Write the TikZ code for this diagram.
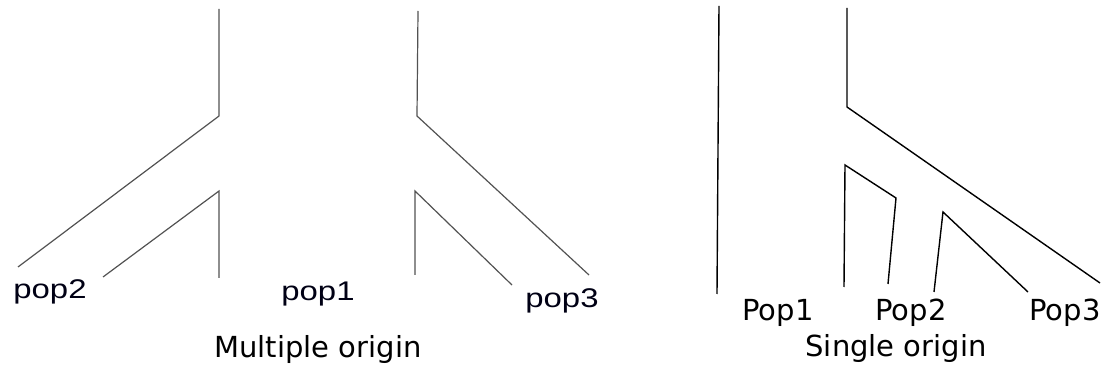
\documentclass[tikz,border=0pt]{standalone}
\usepackage{fontspec}
\setmainfont{DejaVu Sans}
\newfontfamily\popfont[FakeStretch=1.22]{Liberation Sans}
\begin{document}
\begin{tikzpicture}[x=1pt,y=-1pt,
    oldline/.style={draw=black!68,line width=1.2pt},
    newline/.style={draw=black,line width=1.4pt},
    poplab/.style={anchor=base,font=\popfont\fontsize{27}{27}\selectfont,text=black!92!blue},
    treelab/.style={anchor=base,font=\fontsize{29}{29}\selectfont}]
  \useasboundingbox (0,0) rectangle (1112,379);
  % multiple origin
  \coordinate (ltop) at (219,9);
  \coordinate (lbend) at (219,116);
  \coordinate (lend) at (18,267);
  \coordinate (lapex) at (219,191);
  \coordinate (lfoot) at (219,278);
  \coordinate (lside) at (103,277);
  \coordinate (rtop) at (418,11);
  \coordinate (rbend) at (417,116);
  \coordinate (rend) at (589,275);
  \coordinate (rapex) at (415,191);
  \coordinate (rfoot) at (415,275);
  \coordinate (rside) at (512,285);
  \draw[oldline] (ltop) -- (lbend) -- (lend);
  \draw[oldline] (lside) -- (lapex) -- (lfoot);
  \draw[oldline] (rtop) -- (rbend) -- (rend);
  \draw[oldline] (rfoot) -- (rapex) -- (rside);
  \node[poplab] (pop2) at (50,299) {pop2};
  \node[poplab] (pop1) at (318,301) {pop1};
  \node[poplab] (pop3) at (562,308) {pop3};
  \node[treelab] (multi) at (318,358) {Multiple origin};
  % single origin
  \coordinate (otop) at (719,6);
  \coordinate (obot) at (717,294);
  \coordinate (stop) at (847,8);
  \coordinate (sbend) at (847,107);
  \coordinate (send) at (1100,283);
  \coordinate (aapex) at (845,165);
  \coordinate (afoot) at (844,287);
  \coordinate (acorner) at (896,198);
  \coordinate (aend) at (888,284);
  \coordinate (bapex) at (943,212);
  \coordinate (bfoot) at (934,292);
  \coordinate (bend) at (1028,292);
  \draw[newline] (otop) -- (obot);
  \draw[newline] (stop) -- (sbend) -- (send);
  \draw[newline] (afoot) -- (aapex) -- (acorner) -- (aend);
  \draw[newline] (bfoot) -- (bapex) -- (bend);
  \node[treelab] (p1) at (778,321) {Pop1};
  \node[treelab] (p2) at (911,321) {Pop2};
  \node[treelab] (p3) at (1065,321) {Pop3};
  \node[treelab] (single) at (896,357) {Single origin};
\end{tikzpicture}
\end{document}
